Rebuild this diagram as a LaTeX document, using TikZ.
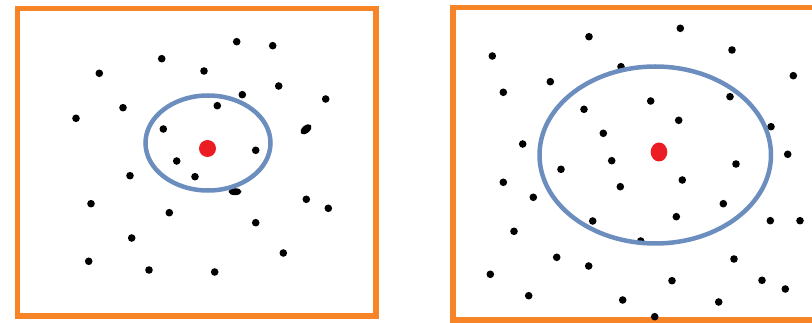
\documentclass[tikz,border=0pt]{standalone}
\definecolor{frameorange}{RGB}{248,132,40}
\definecolor{ringblue}{RGB}{108,142,190}
\definecolor{centerred}{RGB}{236,28,36}
\begin{document}
\begin{tikzpicture}[x=1pt,y=-1pt,
  frame/.style={draw=frameorange,line width=5.5pt},
  ring/.style={draw=ringblue,line width=4.5pt},
  pt/.style={fill=black},
  hub/.style={fill=centerred}]
\useasboundingbox (0,0) rectangle (812,323);
\begin{scope}
\clip (0,0) rectangle (812,323);
% frames
\draw[frame] (17.5,8.5) rectangle (376,316);
\draw[frame] (453,7.5) rectangle (830,320);
% left panel dots
\foreach \x/\y in {161.7/58.7,99.3/73.3,123/107.7,76/118.3,163.3/129,176.7/161,
  236.7/41.7,272.7/45.7,204/71,278.7/86,242.3/94.7,217.3/105.7,325.7/99,255.7/150.3,
  130/175.7,195/176.7,91/203.7,169.3/212.7,131.7/238,88.7/261.3,149/270,
  306.3/199.3,328.3/208.3,255.7/222.7,283.3/253,214.7/272}
  \fill[pt] (\x,\y) circle (3.8);
\fill[pt,rotate around={40:(306,129.3)}] (306,129.3) ellipse (6.5 and 3.8);
\fill[pt] (235,191.7) ellipse (6.5 and 3.5);
% left ring and hub
\draw[ring] (208,143) ellipse (62.5 and 47.5);
\fill[hub] (207.5,148.5) ellipse (8.5 and 8.5);
% right panel dots
\foreach \x/\y in {589/36.7,492.3/56,550.3/81.7,503.3/92.3,584/109.3,603.3/133.3,
  522.7/144,611.7/160.7,621/66.7,680.3/28.3,732/50,793.3/75.7,650.7/101,730/96.7,
  678.7/120.3,771/126.7,787.7/154.3,736/164,561/169.3,503.3/182.3,620.3/186.7,
  533.3/197.3,592.7/221,514/231.3,556.7/257.3,588.7/266,490.3/274.3,528.7/295.7,
  622.7/300,682.3/180,723.3/203.7,676.3/216.7,770.3/220.7,800/220.7,640.7/241,
  734/259,672/280.7,762/280.3,785.3/289,718.7/302,654.7/316.7}
  \fill[pt] (\x,\y) circle (3.8);
% right ring and hub
\draw[ring] (655.25,155) ellipse (115.75 and 88.5);
\fill[hub] (659,152) ellipse (8.3 and 9.5);
\end{scope}
\end{tikzpicture}
\end{document}
